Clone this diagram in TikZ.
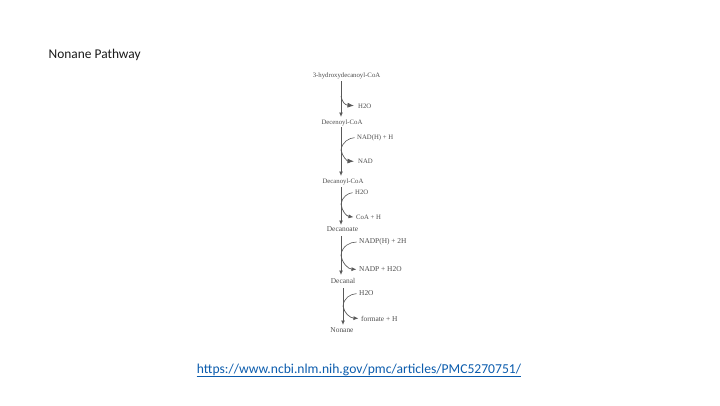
\documentclass[tikz,border=0pt]{standalone}
\usepackage{fontspec}
\setmainfont{Carlito}
\newfontfamily\chemfont{Liberation Serif}
\usetikzlibrary{arrows.meta}
\definecolor{chemtext}{gray}{0.3}
\definecolor{linkblue}{HTML}{0B5CAD}
\tikzset{
  x=1pt,y=-1pt,
  chem/.style={font=\chemfont\fontsize{6.75}{8}\selectfont,text=chemtext,inner sep=0pt},
  chemlow/.style={font=\chemfont\fontsize{7.4}{8}\selectfont,text=chemtext,inner sep=0pt},
  chemr/.style={chem,anchor=west},
  chemlowr/.style={chemlow,anchor=west},
  mainarrow/.style={draw=black!65,line width=1pt,-{Latex[length=4.5pt,width=4pt]}},
  sidein/.style={draw=black!65,line width=0.6pt,shorten <=2.5pt},
  sideout/.style={draw=black!65,line width=0.7pt,shorten >=2.5pt,-{Latex[length=5pt,width=4pt]}},
  sidebig/.style={sideout,shorten >=4pt,-{Latex[length=6.5pt,width=5pt]}},
}
\begin{document}
\begin{tikzpicture}
\useasboundingbox (0,0) rectangle (720,405);
\node[anchor=west,inner sep=0pt,font=\fontsize{13.4}{15}\selectfont,text=black!90] (title) at (48.5,54.5) {Nonane Pathway};
\node[inner sep=0pt,font=\fontsize{13.6}{15}\selectfont,text=linkblue] (url) at (359,369.5) {https://www.ncbi.nlm.nih.gov/pmc/articles/PMC5270751/};
\draw[linkblue,line width=0.7pt] (url.west|-0,376) -- (url.east|-0,376);

\node[chem] (a) at (346.5,75.5) {3-hydroxydecanoyl-CoA};
\node[chem] (b) at (342,122.5) {Decenoyl-CoA};
\node[chem] (c) at (343,181.5) {Decanoyl-CoA};
\node[chemlow] (d) at (342.5,229) {Decanoate};
\node[chemlow] (e) at (343,280.5) {Decanal};
\node[chemlow] (f) at (342,330.5) {Nonane};

\node[chemr] (h1) at (358,106) {H2O};
\node[chemr] (n1) at (357,137.5) {NAD(H) + H};
\node[chemr] (n2) at (358,161.5) {NAD};
\node[chemr] (h2) at (355,192.5) {H2O};
\node[chemr] (co) at (356,217.5) {CoA + H};
\node[chemlowr] (p1) at (359,242) {NADP(H) + 2H};
\node[chemlowr] (p2) at (359,269.5) {NADP + H2O};
\node[chemlowr] (h3) at (359,293.5) {H2O};
\node[chemlowr] (fo) at (361,318.5) {formate + H};

\coordinate (a1) at (341,81); \coordinate (a2) at (341,117);
\coordinate (b1) at (341,127); \coordinate (b2) at (341,176);
\coordinate (c1) at (341,187); \coordinate (c2) at (341,225);
\coordinate (d1) at (341,236); \coordinate (d2) at (341,275);
\coordinate (e1) at (343,288); \coordinate (e2) at (343,325);

\draw[mainarrow] (a1) -- (a2);
\draw[mainarrow] (b1) -- (b2);
\draw[mainarrow] (c1) -- (c2);
\draw[mainarrow] (d1) -- (d2);
\draw[mainarrow] (e1) -- (e2);

\draw[sidebig] (341,96) .. controls (342,102) and (345,105) .. (h1.west);
\draw[sidein] (n1.west) .. controls (349,138) and (342,142) .. (341,150);
\draw[sidebig] (341,150) .. controls (342,156) and (347,161) .. (n2.west);
\draw[sidein] (h2.west) .. controls (348,193) and (342,197) .. (341,204);
\draw[sideout] (341,204) .. controls (342,211) and (346,216) .. (co.west);
\draw[sidein] (p1.west) .. controls (350,242) and (342,246) .. (341,255);
\draw[sideout] (341,255) .. controls (342,263) and (348,269) .. (p2.west);
\draw[sidein] (h3.west) .. controls (350,294) and (344,298) .. (343,306);
\draw[sideout] (343,306) .. controls (344,313) and (350,318) .. (fo.west);
\end{tikzpicture}
\end{document}
